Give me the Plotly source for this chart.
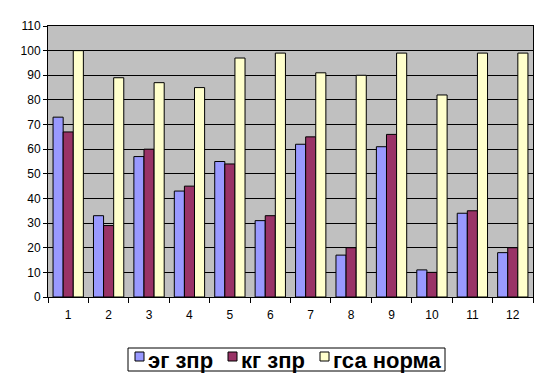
import plotly.graph_objects as go

categories = ["1", "2", "3", "4", "5", "6", "7", "8", "9", "10", "11", "12"]
eg_zpr = [73, 33, 57, 43, 55, 31, 62, 17, 61, 11, 34, 18]
kg_zpr = [67, 29, 60, 45, 54, 33, 65, 20, 66, 10, 35, 20]
gsa_norma = [100, 89, 87, 85, 97, 99, 91, 90, 99, 82, 99, 99]
series_names = ["эг зпр", "кг зпр", "гса норма"]
colors = ["#9999FF", "#993366", "#FFFFCC"]

fig = go.Figure()
for name, vals, c in zip(series_names, [eg_zpr, kg_zpr, gsa_norma], colors):
    fig.add_trace(go.Bar(x=categories, y=vals, name=name, showlegend=False,
                         marker=dict(color=c, line=dict(color="black", width=1))))

# layout geometry (figure pixels; the page body adds an 8px offset)
W, H = 541, 373
ML, MR, MT, MB = 40, 16, 18, 84
PW, PH = W - ML - MR, H - MT - MB


def px(xp):
    return (xp - ML) / PW


def py(yp):
    return (H - MB - yp) / PH


# legend drawn as box + swatches + text
legend_box = (120, 340, 437, 363)
swatch_x = [127, 220, 312]
text_x = [138, 231, 323]
swatch_top, swatch_size = 344, 9
text_y = 352

shapes = [dict(type="rect", xref="paper", yref="paper",
               x0=px(legend_box[0]), x1=px(legend_box[2]),
               y0=py(legend_box[3]), y1=py(legend_box[1]),
               line=dict(color="black", width=1), fillcolor="white", layer="above")]
annotations = []
for name, c, sx, tx in zip(series_names, colors, swatch_x, text_x):
    shapes.append(dict(type="rect", xref="paper", yref="paper",
                       x0=px(sx), x1=px(sx + swatch_size),
                       y0=py(swatch_top + swatch_size), y1=py(swatch_top),
                       line=dict(color="black", width=1), fillcolor=c, layer="above"))
    annotations.append(dict(text=name, xref="paper", yref="paper", x=px(tx), y=py(text_y),
                            xanchor="left", yanchor="middle", showarrow=False,
                            font=dict(size=22, family="Liberation Sans, Arial",
                                      weight="bold", color="black")))

fig.update_layout(
    width=W, height=H,
    margin=dict(l=ML, r=MR, t=MT, b=MB, autoexpand=False),
    paper_bgcolor="white",
    plot_bgcolor="#C0C0C0",
    barmode="group",
    bargap=0.25,
    bargroupgap=0,
    font=dict(family="Liberation Sans, Arial", size=12, color="black"),
    showlegend=False,
    shapes=shapes,
    annotations=annotations,
)
fig.update_xaxes(type="category", showline=True, linecolor="black", linewidth=1, mirror=True,
                 ticks="outside", tickson="boundaries", ticklen=5, tickcolor="black",
                 ticklabelstandoff=7, tickfont=dict(size=12),
                 showgrid=False, automargin=False)
fig.update_yaxes(range=[0, 110], dtick=10, showline=True, linecolor="black", linewidth=1,
                 mirror=True, ticks="outside", ticklen=4, tickcolor="black",
                 tickfont=dict(size=12),
                 showgrid=True, gridcolor="black", gridwidth=1, zeroline=False,
                 automargin=False)

fig.write_html("out.html")
